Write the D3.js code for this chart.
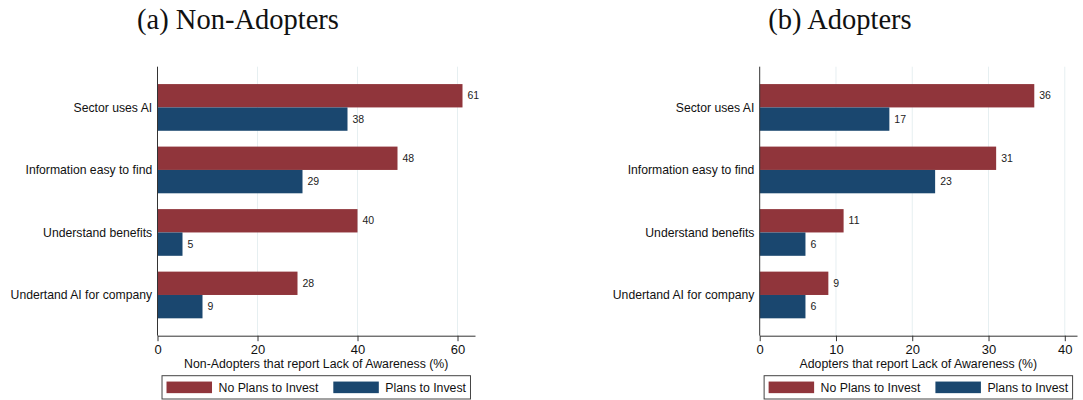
<!DOCTYPE html>
<html>
<head>
<meta charset="utf-8">
<script src="https://cdn.jsdelivr.net/npm/d3@7"></script>
<style>
  html, body { margin: 0; padding: 0; background: #fff; }
  svg { display: block; }
  text { font-family: "Liberation Sans", Arial, sans-serif; }
</style>
</head>
<body>
<svg id="chart" width="1083" height="400"></svg>
<script>
// Awareness items shown on the vertical axis (top to bottom)
const categories = [
  "Sector uses AI",
  "Information easy to find",
  "Understand benefits",
  "Undertand AI for company"
];

// Series names
const seriesNames = ["No Plans to Invest", "Plans to Invest"];

// Panel (a): Non-Adopters, share reporting lack of awareness (%)
const nonAdoptersNoPlans = [61, 48, 40, 28];
const nonAdoptersPlans   = [38, 29, 5, 9];

// Panel (b): Adopters, share reporting lack of awareness (%)
const adoptersNoPlans = [36, 31, 11, 9];
const adoptersPlans   = [17, 23, 6, 6];

// Axis ticks
const nonAdoptersTicks = [0, 20, 40, 60];
const adoptersTicks    = [0, 10, 20, 30, 40];

const colors = { "No Plans to Invest": "#90353B", "Plans to Invest": "#1A476F" };

const svg = d3.select("#chart");

function drawPanel(opt) {
  const g = svg.append("g");

  // Panel title
  g.append("text")
    .attr("x", opt.titleX)
    .attr("y", 28.5)
    .attr("text-anchor", "middle")
    .style("font-family", "'Liberation Serif', 'Times New Roman', serif")
    .style("font-size", "28.5px")
    .attr("fill", "#111")
    .text(opt.title);

  const x = d3.scaleLinear().domain([0, opt.xMax]).range([opt.left, opt.right]);
  const y = d3.scaleBand().domain(categories)
    .range([opt.top, opt.bottom])
    .paddingInner(0.253)
    .paddingOuter(0.278);
  const ySub = d3.scaleBand().domain(seriesNames).range([0, y.bandwidth()]);

  // Gridlines
  g.append("g").selectAll("line")
    .data(opt.ticks.filter(t => t !== 0))
    .join("line")
    .attr("x1", d => x(d)).attr("x2", d => x(d))
    .attr("y1", opt.top).attr("y2", opt.bottom)
    .attr("stroke", "#E6EFF1")
    .attr("stroke-width", 1);

  // Bars
  const rows = categories.map((c, i) => ({
    cat: c,
    vals: [
      { s: seriesNames[0], v: opt.noPlans[i] },
      { s: seriesNames[1], v: opt.plans[i] }
    ]
  }));

  const grp = g.append("g").selectAll("g")
    .data(rows).join("g")
    .attr("transform", d => `translate(0,${y(d.cat)})`);

  grp.selectAll("rect")
    .data(d => d.vals).join("rect")
    .attr("x", x(0))
    .attr("y", d => ySub(d.s))
    .attr("width", d => x(d.v) - x(0))
    .attr("height", ySub.bandwidth())
    .attr("fill", d => colors[d.s]);

  // Value labels
  grp.selectAll("text.val")
    .data(d => d.vals).join("text")
    .attr("class", "val")
    .attr("x", d => x(d.v) + 5)
    .attr("y", d => ySub(d.s) + ySub.bandwidth() / 2)
    .attr("dy", "0.35em")
    .style("font-size", "10.5px")
    .attr("fill", "#222")
    .text(d => d3.format(".0f")(d.v));

  // Category labels
  g.append("g").selectAll("text")
    .data(categories).join("text")
    .attr("x", opt.left - 5.3)
    .attr("y", d => y(d) + y.bandwidth() / 2)
    .attr("dy", "0.35em")
    .attr("text-anchor", "end")
    .style("font-size", "12.2px")
    .attr("fill", "#111")
    .text(d => d);

  // Y axis line
  g.append("line")
    .attr("x1", opt.left).attr("x2", opt.left)
    .attr("y1", opt.top).attr("y2", opt.bottom)
    .attr("stroke", "#333").attr("stroke-width", 1);

  // X axis
  const xAxis = d3.axisBottom(x).tickValues(opt.ticks).tickSize(5.5).tickSizeOuter(0).tickPadding(4);
  const ax = g.append("g")
    .attr("transform", `translate(0,${opt.bottom})`)
    .call(xAxis);
  ax.select(".domain").attr("stroke", "#333");
  ax.selectAll(".tick line").attr("stroke", "#333");
  ax.selectAll(".tick text")
    .style("font-family", "'Liberation Sans', Arial, sans-serif")
    .style("font-size", "13px")
    .attr("fill", "#111");

  // X axis title
  const cx = (opt.left + opt.right) / 2;
  g.append("text")
    .attr("x", cx)
    .attr("y", 367.6)
    .attr("text-anchor", "middle")
    .style("font-size", "12.3px")
    .attr("fill", "#111")
    .text(opt.xTitle);

  // Legend
  const leg = g.append("g");
  const swW = 45.5, swH = 11.6, pad = 4.5, gapText = 6.5, gapItem = 15;
  const labels = seriesNames.map(s => {
    const t = leg.append("text")
      .style("font-size", "12.3px")
      .attr("fill", "#111")
      .text(s);
    return { s, t, w: t.node().getComputedTextLength() };
  });
  const totalW = pad * 2 + labels.reduce((a, l) => a + swW + gapText + l.w, 0) + gapItem;
  const legLeft = cx - totalW / 2;
  const legTop = 375.7, legH = 23.3;
  leg.insert("rect", ":first-child")
    .attr("x", legLeft).attr("y", legTop)
    .attr("width", totalW).attr("height", legH)
    .attr("fill", "#fff")
    .attr("stroke", "#444").attr("stroke-width", 1);
  let cursor = legLeft + pad;
  labels.forEach((l, i) => {
    leg.append("rect")
      .attr("x", cursor).attr("y", legTop + legH / 2 - swH / 2)
      .attr("width", swW).attr("height", swH)
      .attr("fill", colors[l.s]);
    cursor += swW + gapText;
    l.t.attr("x", cursor).attr("y", legTop + legH / 2).attr("dy", "0.35em");
    cursor += l.w + gapItem;
  });
}

drawPanel({
  title: "(a) Non-Adopters",
  titleX: 238,
  left: 157.5,
  right: 475,
  top: 66.7,
  bottom: 335.7,
  xMax: 63.5,
  ticks: nonAdoptersTicks,
  noPlans: nonAdoptersNoPlans,
  plans: nonAdoptersPlans,
  xTitle: "Non-Adopters that report Lack of Awareness (%)"
});

drawPanel({
  title: "(b) Adopters",
  titleX: 840,
  left: 759.7,
  right: 1077,
  top: 66.7,
  bottom: 335.7,
  xMax: 41.6,
  ticks: adoptersTicks,
  noPlans: adoptersNoPlans,
  plans: adoptersPlans,
  xTitle: "Adopters that report Lack of Awareness (%)"
});
</script>
</body>
</html>
